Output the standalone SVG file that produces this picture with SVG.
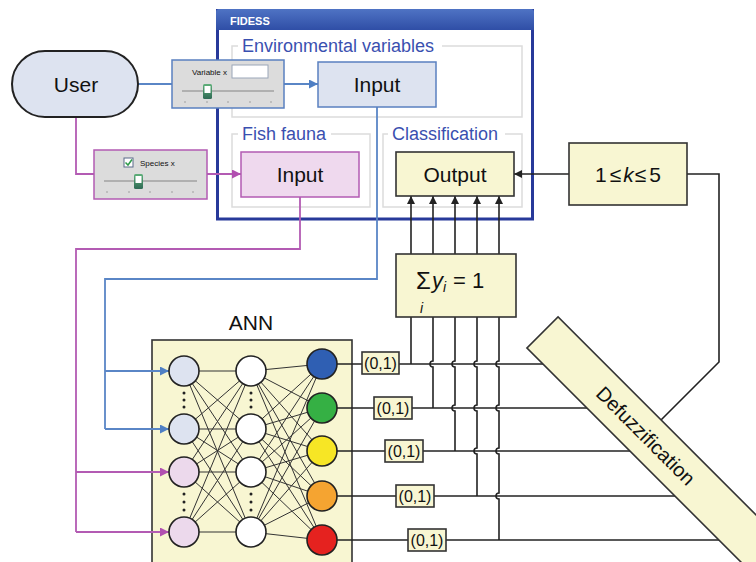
<svg xmlns="http://www.w3.org/2000/svg" width="756" height="562" viewBox="0 0 756 562">
<defs>
<linearGradient id="tb" x1="0" y1="0" x2="0" y2="1"><stop offset="0" stop-color="#4f73c4"/><stop offset="1" stop-color="#2f4ea6"/></linearGradient>
<linearGradient id="thumb" x1="0" y1="0" x2="0" y2="1"><stop offset="0" stop-color="#5fb07a"/><stop offset="1" stop-color="#2f6a55"/></linearGradient>
<marker id="ab" viewBox="0 0 10 10" refX="10" refY="5" markerWidth="8" markerHeight="8" markerUnits="userSpaceOnUse" orient="auto"><path d="M0,0 L10,5 L0,10 z" fill="#222"/></marker>
<marker id="abl" viewBox="0 0 10 10" refX="10" refY="5" markerWidth="9" markerHeight="9" markerUnits="userSpaceOnUse" orient="auto"><path d="M0,0 L10,5 L0,10 z" fill="#4f7fc4"/></marker>
<marker id="api" viewBox="0 0 10 10" refX="10" refY="5" markerWidth="9" markerHeight="9" markerUnits="userSpaceOnUse" orient="auto"><path d="M0,0 L10,5 L0,10 z" fill="#b14fb0"/></marker>
</defs>
<style>
text{font-family:"Liberation Sans",Arial,sans-serif;fill:#111}
.lbl{font-size:21px;text-anchor:middle}
.grp{font-size:18px;fill:#3a50b0}
.gb{fill:none;stroke:#dcdcdc;stroke-width:1.5}
.k{fill:none;stroke:#222;stroke-width:1.6}
.bl{fill:none;stroke:#5a86c6;stroke-width:1.8}
.pi{fill:none;stroke:#b35bb3;stroke-width:1.8}
.yel{fill:#f8f6d2;stroke:#333;stroke-width:1.6}
.nd{stroke:#222;stroke-width:1.6}
.ann{stroke:#333;stroke-width:1}
.zo{font-size:16px;text-anchor:middle}
.dot{fill:#222}
.tick{fill:#9a9a9a}
.small{font-size:8px}
</style>

<g id="fidess">
<rect x="217.5" y="10.5" width="315" height="208.5" fill="#fff" stroke="#27399a" stroke-width="3"/>
<path d="M216,30 V12 Q216,9 219,9 H531 Q534,9 534,12 V30 Z" fill="url(#tb)"/>
<text x="230" y="25" style="font-size:11px;font-weight:bold;fill:#fff">FIDESS</text>
<g id="env-group">
<path class="gb" d="M238,46 H232 V117 H522 V46 H442"/>
<text class="grp" x="242" y="52">Environmental variables</text>
</g>
<g id="fish-group">
<path class="gb" d="M238,134 H232 V207 H370 V134 H331"/>
<text class="grp" x="242" y="140">Fish fauna</text>
</g>
<g id="class-group">
<path class="gb" d="M388,134 H383 V207 H522 V134 H505"/>
<text class="grp" x="392" y="140">Classification</text>
</g>
</g>

<g id="ann-frame">
<text class="lbl" x="251" y="330">ANN</text>
<rect class="yel" x="152" y="340" width="200" height="240"/>
</g>

<g id="connectors">
<path class="bl" d="M138,84 H172"/>
<path class="bl" d="M284,84 H318" marker-end="url(#abl)"/>
<path class="pi" d="M76,117 V174 H94"/>
<path class="pi" d="M207,174 H241" marker-end="url(#api)"/>
<path class="bl" d="M377,107 V279 H105 V429"/>
<path class="bl" d="M105,371 H169" marker-end="url(#abl)"/>
<path class="bl" d="M105,429 H169" marker-end="url(#abl)"/>
<path class="pi" d="M300,197 V249 H76 V532"/>
<path class="pi" d="M76,472 H169" marker-end="url(#api)"/>
<path class="pi" d="M76,532 H169" marker-end="url(#api)"/>
<path class="k" d="M569,174 H514" marker-end="url(#ab)"/>
<path class="k" d="M687,174 H719 V362 L661,420"/>
<path class="k" d="M411,254 V196" marker-end="url(#ab)"/>
<path class="k" d="M433,254 V196" marker-end="url(#ab)"/>
<path class="k" d="M455,254 V196" marker-end="url(#ab)"/>
<path class="k" d="M477,254 V196" marker-end="url(#ab)"/>
<path class="k" d="M499,254 V196" marker-end="url(#ab)"/>
<path class="k" d="M322,364 H545"/>
<path class="k" d="M322,408 H589"/>
<path class="k" d="M322,451 H632"/>
<path class="k" d="M322,496 H677"/>
<path class="k" d="M322,540 H721"/>
<path class="k" d="M411,317 V364"/>
<path class="k" d="M433,317 V361 a3,3 0 0 0 0,6 V408"/>
<path class="k" d="M455,317 V361 a3,3 0 0 0 0,6 V405 a3,3 0 0 0 0,6 V451"/>
<path class="k" d="M477,317 V361 a3,3 0 0 0 0,6 V405 a3,3 0 0 0 0,6 V448 a3,3 0 0 0 0,6 V496"/>
<path class="k" d="M499,317 V361 a3,3 0 0 0 0,6 V405 a3,3 0 0 0 0,6 V448 a3,3 0 0 0 0,6 V493 a3,3 0 0 0 0,6 V540"/>
</g>

<g id="user">
<rect x="12" y="51" width="126" height="66" rx="33" fill="#dde3f0" stroke="#222" stroke-width="2"/>
<text class="lbl" x="76" y="92">User</text>
</g>

<g id="variable-slider">
<rect x="172" y="60" width="112" height="48" fill="#dcdcdc" stroke="#5a80c0" stroke-width="1.5"/>
<text class="small" x="192" y="75">Variable x</text>
<rect x="232" y="65" width="36" height="13" fill="#fff" stroke="#9aa6b8"/>
<line x1="182" y1="91" x2="274" y2="91" stroke="#b0b0b0" stroke-width="2"/>
<rect x="203" y="84" width="9" height="15" rx="1.5" fill="url(#thumb)"/>
<rect x="204.5" y="86" width="6" height="7" fill="#fff"/>
<g class="tick"><circle cx="185" cy="102" r="0.8"/><circle cx="207" cy="102" r="0.8"/><circle cx="228" cy="102" r="0.8"/><circle cx="250" cy="102" r="0.8"/><circle cx="271" cy="102" r="0.8"/></g>
</g>

<g id="species-slider">
<rect x="94" y="150" width="113" height="49" fill="#dcdcdc" stroke="#b35bb3" stroke-width="1.5"/>
<rect x="124" y="158" width="9" height="9" fill="#fff" stroke="#5a6a8a"/>
<path d="M125.5,162.5 L128,165 L132,159.5" fill="none" stroke="#2e9a4a" stroke-width="1.5"/>
<text class="small" x="140" y="166">Species x</text>
<line x1="104" y1="181" x2="197" y2="181" stroke="#b0b0b0" stroke-width="2"/>
<rect x="134" y="174" width="9" height="15" rx="1.5" fill="url(#thumb)"/>
<rect x="135.5" y="176" width="6" height="7" fill="#fff"/>
<g class="tick"><circle cx="107" cy="192" r="0.8"/><circle cx="129" cy="192" r="0.8"/><circle cx="150" cy="192" r="0.8"/><circle cx="172" cy="192" r="0.8"/><circle cx="193" cy="192" r="0.8"/></g>
</g>

<g id="env-input">
<rect x="318" y="62" width="118" height="45" fill="#dde3f0" stroke="#5a80c0" stroke-width="1.5"/>
<text class="lbl" x="377" y="92">Input</text>
</g>

<g id="fish-input">
<rect x="241" y="152" width="118" height="45" fill="#efd9ee" stroke="#b35bb3" stroke-width="1.5"/>
<text class="lbl" x="300" y="182">Input</text>
</g>

<g id="output">
<rect class="yel" x="396" y="152" width="118" height="44"/>
<text class="lbl" x="455" y="182">Output</text>
</g>

<g id="k-range">
<rect class="yel" x="569" y="143" width="118" height="62"/>
<text x="628" y="182" style="font-size:21px;text-anchor:middle">1<tspan dx="3">≤</tspan><tspan dx="2" font-style="italic">k</tspan><tspan dx="1">≤</tspan><tspan dx="3">5</tspan></text>
</g>

<g id="sum">
<rect class="yel" x="396" y="254" width="120" height="63"/>
<text x="416" y="289" style="font-size:24px">Σ</text>
<text x="420" y="313" style="font-size:14px;font-style:italic">i</text>
<text x="432" y="288" style="font-size:22px;font-style:italic">y</text>
<text x="443" y="292" style="font-size:14px;font-style:italic">i</text>
<text x="453" y="288" style="font-size:22px">= 1</text>
</g>

<g id="ann-network">
<g class="ann">
<line x1="184" y1="371" x2="251" y2="371"/><line x1="184" y1="371" x2="251" y2="429"/><line x1="184" y1="371" x2="251" y2="472"/><line x1="184" y1="371" x2="251" y2="532"/>
<line x1="184" y1="429" x2="251" y2="371"/><line x1="184" y1="429" x2="251" y2="429"/><line x1="184" y1="429" x2="251" y2="472"/><line x1="184" y1="429" x2="251" y2="532"/>
<line x1="184" y1="472" x2="251" y2="371"/><line x1="184" y1="472" x2="251" y2="429"/><line x1="184" y1="472" x2="251" y2="472"/><line x1="184" y1="472" x2="251" y2="532"/>
<line x1="184" y1="532" x2="251" y2="371"/><line x1="184" y1="532" x2="251" y2="429"/><line x1="184" y1="532" x2="251" y2="472"/><line x1="184" y1="532" x2="251" y2="532"/>
<line x1="251" y1="371" x2="322" y2="364"/><line x1="251" y1="371" x2="322" y2="408"/><line x1="251" y1="371" x2="322" y2="451"/><line x1="251" y1="371" x2="322" y2="496"/><line x1="251" y1="371" x2="322" y2="540"/>
<line x1="251" y1="429" x2="322" y2="364"/><line x1="251" y1="429" x2="322" y2="408"/><line x1="251" y1="429" x2="322" y2="451"/><line x1="251" y1="429" x2="322" y2="496"/><line x1="251" y1="429" x2="322" y2="540"/>
<line x1="251" y1="472" x2="322" y2="364"/><line x1="251" y1="472" x2="322" y2="408"/><line x1="251" y1="472" x2="322" y2="451"/><line x1="251" y1="472" x2="322" y2="496"/><line x1="251" y1="472" x2="322" y2="540"/>
<line x1="251" y1="532" x2="322" y2="364"/><line x1="251" y1="532" x2="322" y2="408"/><line x1="251" y1="532" x2="322" y2="451"/><line x1="251" y1="532" x2="322" y2="496"/><line x1="251" y1="532" x2="322" y2="540"/>
</g>
<circle class="nd" cx="184" cy="371" r="15" fill="#dde3f0"/>
<circle class="nd" cx="184" cy="429" r="15" fill="#dde3f0"/>
<circle class="nd" cx="184" cy="472" r="15" fill="#ecd9ec"/>
<circle class="nd" cx="184" cy="532" r="15" fill="#ecd9ec"/>
<circle class="nd" cx="251" cy="371" r="15" fill="#fff"/>
<circle class="nd" cx="251" cy="429" r="15" fill="#fff"/>
<circle class="nd" cx="251" cy="472" r="15" fill="#fff"/>
<circle class="nd" cx="251" cy="532" r="15" fill="#fff"/>
<g class="dot">
<circle cx="184" cy="393" r="1.5"/><circle cx="184" cy="400" r="1.5"/><circle cx="184" cy="407" r="1.5"/>
<circle cx="184" cy="494" r="1.5"/><circle cx="184" cy="502" r="1.5"/><circle cx="184" cy="510" r="1.5"/>
<circle cx="251" cy="393" r="1.5"/><circle cx="251" cy="400" r="1.5"/><circle cx="251" cy="407" r="1.5"/>
<circle cx="251" cy="494" r="1.5"/><circle cx="251" cy="502" r="1.5"/><circle cx="251" cy="510" r="1.5"/>
</g>
<circle class="nd" cx="322" cy="364" r="15" fill="#2f5fb3"/>
<circle class="nd" cx="322" cy="408" r="15" fill="#35b044"/>
<circle class="nd" cx="322" cy="451" r="15" fill="#f7e625"/>
<circle class="nd" cx="322" cy="496" r="15" fill="#f5a431"/>
<circle class="nd" cx="322" cy="540" r="15" fill="#e5221f"/>
</g>

<g id="range-labels">
<rect class="yel" x="362" y="352" width="37" height="22"/><text class="zo" x="380.5" y="369">(0,1)</text>
<rect class="yel" x="374" y="397" width="38" height="22"/><text class="zo" x="393" y="414">(0,1)</text>
<rect class="yel" x="385" y="440" width="38" height="22"/><text class="zo" x="404" y="457">(0,1)</text>
<rect class="yel" x="396" y="485" width="38" height="22"/><text class="zo" x="415" y="502">(0,1)</text>
<rect class="yel" x="408" y="529" width="38" height="22"/><text class="zo" x="427" y="546">(0,1)</text>
</g>

<g id="defuzzification" transform="translate(542.5,332.5) rotate(45)">
<rect class="yel" x="0" y="-22" width="320" height="44"/>
<text class="lbl" x="146" y="7" style="font-size:20px">Defuzzification</text>
</g>
</svg>
